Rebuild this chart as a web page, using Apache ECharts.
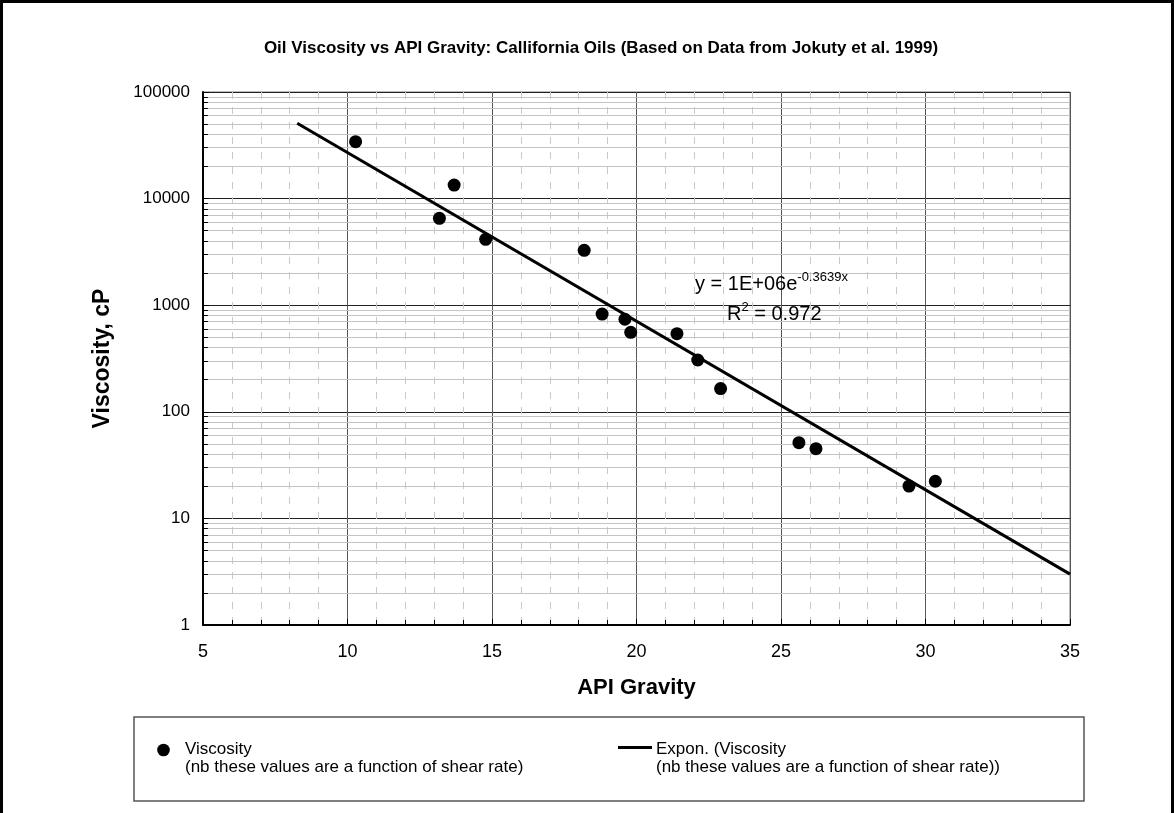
<!DOCTYPE html>
<html>
<head>
<meta charset="utf-8">
<script src="https://cdn.jsdelivr.net/npm/echarts@6/dist/echarts.min.js"></script>
<style>
html,body{margin:0;padding:0;background:#fff;}
#chart{width:1176px;height:813px;}
</style>
</head>
<body>
<div id="chart"></div>
<script>
// ---- data ----
const apiGravity = [10.28, 13.18, 13.69, 14.78, 18.19, 18.81, 19.60, 19.80, 21.40, 22.12, 22.91, 25.62, 26.21, 29.43, 30.34];
const viscosity  = [34200, 6530, 13400, 4150, 3270, 826, 738, 557, 541, 306, 165, 51.3, 45.1, 20.1, 22.3];
const trendX = [8.26, 35];
const trendY = [51000, 3.0];
const decades = [1, 10, 100, 1000, 10000];
const minorMult = [2, 3, 4, 5, 6, 7, 8, 9];
const titleText = 'Oil Viscosity vs API Gravity: Callifornia Oils (Based on Data from Jokuty et al. 1999)';
const eqText = 'y = 1E+06e';
const eqExp = '-0.3639x';
const r2Text = ' = 0.972';
const legend1 = ['Viscosity', '(nb these values are a function of shear rate)'];
const legend2 = ['Expon. (Viscosity', '(nb these values are a function of shear rate))'];

const FONT = "'Liberation Sans', Arial, sans-serif";

const minorVals = [];
decades.forEach(d => minorMult.forEach(m => minorVals.push(d * m)));

const chart = echarts.init(document.getElementById('chart'), null, {renderer: 'canvas'});

const option = {
  animation: false,
  backgroundColor: '#fff',
  title: {
    text: titleText,
    left: 596, top: 35, textAlign: 'center',
    textStyle: {fontFamily: FONT, fontSize: 17, fontWeight: 'bold', color: '#000'}
  },
  grid: {left: 203, right: 106, top: 92, bottom: 188, show: true, borderColor: '#777', borderWidth: 1, backgroundColor: 'transparent'},
  xAxis: {
    type: 'value', min: 5, max: 35, interval: 5,
    name: 'API Gravity', nameLocation: 'middle', nameGap: 52,
    nameTextStyle: {fontFamily: FONT, fontSize: 22, fontWeight: 'bold', color: '#000'},
    axisLine: {show: true, onZero: false, lineStyle: {color: '#000', width: 2}},
    axisTick: {show: true, inside: true, length: 6, lineStyle: {color: '#000'}},
    minorTick: {show: true, splitNumber: 5, length: 5, lineStyle: {color: '#000'}},
    axisLabel: {fontFamily: FONT, fontSize: 18, color: '#000', margin: 18},
    splitLine: {show: true, lineStyle: {color: '#555', width: 1}},
    minorSplitLine: {show: true, lineStyle: {color: '#c8c8c8', width: 1, type: [7, 8]}}
  },
  yAxis: {
    type: 'log', logBase: 10, min: 1, max: 100000,
    name: 'Viscosity, cP', nameLocation: 'middle', nameGap: 89, nameRotate: 90,
    nameTextStyle: {fontFamily: FONT, fontSize: 23, fontWeight: 'bold', color: '#000'},
    axisLine: {show: true, lineStyle: {color: '#000', width: 2}},
    axisTick: {show: true, inside: true, length: 6, lineStyle: {color: '#000'}},
    axisLabel: {fontFamily: FONT, fontSize: 17, color: '#000', margin: 13, formatter: v => String(v)},
    splitLine: {show: true, lineStyle: {color: '#222', width: 1}}
  },
  series: [
    {
      // minor horizontal grid lines (2..9 in each decade)
      type: 'line', data: [], silent: true, z: 1,
      markLine: {
        silent: true, symbol: 'none', label: {show: false}, z: 1,
        lineStyle: {color: '#c4c4c4', width: 1, type: 'solid'},
        data: minorVals.map(v => ({yAxis: v}))
      }
    },
    {
      // minor inside ticks on the y axis
      type: 'line', data: [], silent: true, z: 3,
      markLine: {
        silent: true, symbol: 'none', label: {show: false}, z: 3,
        lineStyle: {color: '#000', width: 1, type: 'solid'},
        data: minorVals.map(v => [{coord: [5, v]}, {coord: [5.17, v]}])
      }
    },
    {
      name: 'Expon. (Viscosity)', type: 'line', z: 6,
      data: trendX.map((x, i) => [x, trendY[i]]),
      showSymbol: false, symbol: 'none',
      lineStyle: {color: '#000', width: 3}
    },
    {
      name: 'Viscosity', type: 'scatter', z: 7,
      data: apiGravity.map((x, i) => [x, viscosity[i]]),
      symbol: 'circle', symbolSize: 13,
      itemStyle: {color: '#000', opacity: 1}
    }
  ],
  graphic: [
    {type: 'rect', z: 20, shape: {x: 1.5, y: 1.5, width: 1171, height: 840}, style: {fill: 'none', stroke: '#000', lineWidth: 3}, silent: true},
    // trendline equation
    {type: 'text', z: 20, left: 695, top: 271, style: {
      text: '{a|' + eqText + '}{b|' + eqExp + '}', fontFamily: FONT,
      rich: {
        a: {fontFamily: FONT, fontSize: 20, color: '#000', verticalAlign: 'bottom', lineHeight: 23},
        b: {fontFamily: FONT, fontSize: 13, color: '#000', verticalAlign: 'top', padding: [0, 0, 10, 0], lineHeight: 15}
      }
    }},
    {type: 'text', z: 20, left: 727, top: 301, style: {
      text: '{a|R}{b|2}{a|' + r2Text + '}', fontFamily: FONT,
      rich: {
        a: {fontFamily: FONT, fontSize: 20, color: '#000', verticalAlign: 'bottom', lineHeight: 23},
        b: {fontFamily: FONT, fontSize: 13, color: '#000', verticalAlign: 'top', padding: [0, 0, 10, 0], lineHeight: 15}
      }
    }},
    // legend box
    {type: 'rect', z: 20, shape: {x: 134, y: 717, width: 950, height: 84}, style: {fill: '#fff', stroke: '#555', lineWidth: 1.5}, silent: true},
    {type: 'circle', z: 21, shape: {cx: 163.5, cy: 750, r: 6.3}, style: {fill: '#000'}, silent: true},
    {type: 'text', z: 21, x: 185, y: 740, style: {text: legend1.join('\n'), fontFamily: FONT, fontSize: 17, lineHeight: 18, fill: '#000'}},
    {type: 'line', z: 21, shape: {x1: 618, y1: 747.5, x2: 652, y2: 747.5}, style: {stroke: '#000', lineWidth: 3}, silent: true},
    {type: 'text', z: 21, x: 656, y: 740, style: {text: legend2.join('\n'), fontFamily: FONT, fontSize: 17, lineHeight: 18, fill: '#000'}}
  ]
};
chart.setOption(option);
</script>
</body>
</html>
